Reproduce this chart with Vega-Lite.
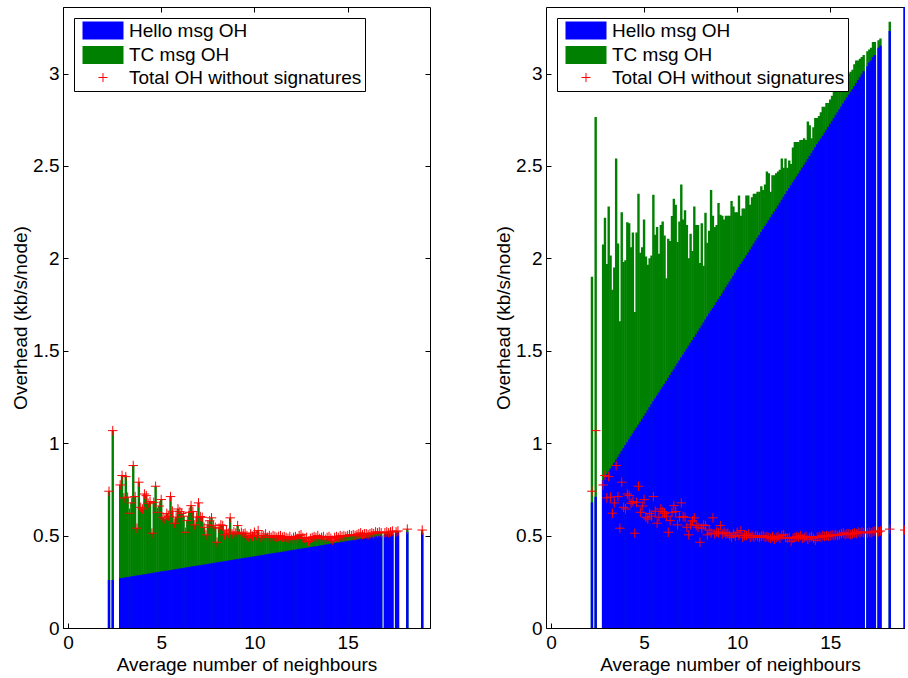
{
 "$schema": "https://vega.github.io/schema/vega-lite/v6.json",
 "padding": {"left": 10, "top": 6, "right": 0, "bottom": 0},
 "background": "white",
 "spacing": 63,
 "config": {
  "font": "Liberation Sans",
  "view": {"stroke": "black", "strokeWidth": 1},
  "axis": {"labelFont": "Liberation Sans", "labelFontSize": 19, "labelColor": "black", "titleFont": "Liberation Sans", "titleFontSize": 19, "titleFontWeight": "normal", "titleColor": "black", "domainColor": "black", "tickColor": "black", "grid": false, "tickSize": -5, "labelPadding": 9},
  "axisX": {"labelPadding": 10, "titlePadding": 3},
  "axisY": {"minExtent": 27, "maxExtent": 27, "titlePadding": 6},
  "legend": {"orient": "none", "legendX": 11, "legendY": 11, "strokeColor": "black", "fillColor": "white", "padding": 3, "labelFont": "Liberation Sans", "labelFontSize": 19, "labelColor": "black", "labelLimit": 400, "labelOffset": 33, "rowPadding": 1.5, "symbolType": "M-0.444,-1H4.111V1H-0.444Z", "symbolSize": 324, "symbolStrokeWidth": 1}
 },
 "resolve": {"scale": {"color": "independent"}, "legend": {"color": "independent"}},
 "datasets": {"oh": [
{"x":2.2,"hL":0.26,"tL":0.74,"hR":0.68,"tR":1.90},
{"x":2.4,"hL":0.26,"tL":1.068,"hR":0.71,"tR":2.765},
{"x":2.8,"hL":0.269,"tL":0.774,"hR":0.800,"tR":2.075},
{"x":2.9,"hL":0.271,"tL":0.825,"hR":0.816,"tR":2.22},
{"x":3.0,"hL":0.272,"tL":0.704,"hR":0.832,"tR":1.97},
{"x":3.1,"hL":0.274,"tL":0.819,"hR":0.847,"tR":2.28},
{"x":3.2,"hL":0.276,"tL":0.708,"hR":0.863,"tR":2.016},
{"x":3.3,"hL":0.277,"tL":0.621,"hR":0.879,"tR":1.83},
{"x":3.4,"hL":0.279,"tL":0.677,"hR":0.895,"tR":1.95},
{"x":3.5,"hL":0.281,"tL":0.879,"hR":0.911,"tR":2.54},
{"x":3.6,"hL":0.282,"tL":0.711,"hR":0.926,"tR":2.08},
{"x":3.7,"hL":0.284,"tL":0.54,"hR":0.942,"tR":1.66},
{"x":3.8,"hL":0.286,"tL":0.789,"hR":0.958,"tR":2.25},
{"x":3.9,"hL":0.287,"tL":0.653,"hR":0.974,"tR":1.98},
{"x":4.0,"hL":0.289,"tL":0.644,"hR":0.990,"tR":1.99},
{"x":4.1,"hL":0.291,"tL":0.725,"hR":1.005,"tR":2.196},
{"x":4.2,"hL":0.292,"tL":0.716,"hR":1.021,"tR":2.19},
{"x":4.3,"hL":0.294,"tL":0.675,"hR":1.037,"tR":2.06},
{"x":4.4,"hL":0.296,"tL":0.684,"hR":1.053,"tR":2.14},
{"x":4.5,"hL":0.297,"tL":0.513,"hR":1.069,"tR":1.71},
{"x":4.6,"hL":0.299,"tL":0.68,"hR":1.084,"tR":2.14},
{"x":4.7,"hL":0.301,"tL":0.767,"hR":1.100,"tR":2.35},
{"x":4.8,"hL":0.302,"tL":0.626,"hR":1.116,"tR":2.03},
{"x":4.9,"hL":0.304,"tL":0.66,"hR":1.132,"tR":2.06},
{"x":5.0,"hL":0.306,"tL":0.695,"hR":1.148,"tR":2.21},
{"x":5.1,"hL":0.307,"tL":0.599,"hR":1.163,"tR":2.01},
{"x":5.2,"hL":0.309,"tL":0.59,"hR":1.179,"tR":1.965},
{"x":5.3,"hL":0.310,"tL":0.62,"hR":1.195,"tR":2.0},
{"x":5.4,"hL":0.312,"tL":0.605,"hR":1.211,"tR":2.016},
{"x":5.5,"hL":0.314,"tL":0.711,"hR":1.227,"tR":2.344},
{"x":5.6,"hL":0.315,"tL":0.632,"hR":1.242,"tR":2.128},
{"x":5.7,"hL":0.317,"tL":0.567,"hR":1.258,"tR":2.17},
{"x":5.8,"hL":0.319,"tL":0.60,"hR":1.274,"tR":2.025},
{"x":5.9,"hL":0.320,"tL":0.644,"hR":1.290,"tR":2.18},
{"x":6.0,"hL":0.322,"tL":0.63,"hR":1.306,"tR":2.2},
{"x":6.1,"hL":0.324,"tL":0.62,"hR":1.321,"tR":2.124},
{"x":6.2,"hL":0.325,"tL":0.605,"hR":1.337,"tR":1.893},
{"x":6.3,"hL":0.327,"tL":0.518,"hR":1.353,"tR":2.106},
{"x":6.4,"hL":0.329,"tL":0.581,"hR":1.369,"tR":2.094},
{"x":6.5,"hL":0.330,"tL":0.626,"hR":1.385,"tR":2.229},
{"x":6.6,"hL":0.332,"tL":0.662,"hR":1.400,"tR":2.323},
{"x":6.7,"hL":0.334,"tL":0.63,"hR":1.416,"tR":2.29},
{"x":6.8,"hL":0.335,"tL":0.558,"hR":1.432,"tR":2.088},
{"x":6.9,"hL":0.337,"tL":0.60,"hR":1.448,"tR":2.2},
{"x":7.0,"hL":0.339,"tL":0.677,"hR":1.464,"tR":2.4},
{"x":7.1,"hL":0.340,"tL":0.603,"hR":1.479,"tR":2.21},
{"x":7.2,"hL":0.342,"tL":0.599,"hR":1.495,"tR":2.26},
{"x":7.3,"hL":0.343,"tL":0.545,"hR":1.511,"tR":2.18},
{"x":7.4,"hL":0.345,"tL":0.504,"hR":1.527,"tR":2.0},
{"x":7.5,"hL":0.347,"tL":0.558,"hR":1.543,"tR":2.133},
{"x":7.6,"hL":0.348,"tL":0.58,"hR":1.558,"tR":2.04},
{"x":7.7,"hL":0.350,"tL":0.596,"hR":1.574,"tR":2.28},
{"x":7.8,"hL":0.352,"tL":0.554,"hR":1.590,"tR":2.18},
{"x":7.9,"hL":0.353,"tL":0.545,"hR":1.606,"tR":2.18},
{"x":8.0,"hL":0.355,"tL":0.464,"hR":1.622,"tR":1.975},
{"x":8.1,"hL":0.357,"tL":0.54,"hR":1.637,"tR":2.19},
{"x":8.2,"hL":0.358,"tL":0.558,"hR":1.653,"tR":1.96},
{"x":8.3,"hL":0.360,"tL":0.554,"hR":1.669,"tR":2.247},
{"x":8.4,"hL":0.362,"tL":0.504,"hR":1.685,"tR":2.084},
{"x":8.5,"hL":0.363,"tL":0.53,"hR":1.701,"tR":2.15},
{"x":8.6,"hL":0.365,"tL":0.513,"hR":1.716,"tR":2.37},
{"x":8.7,"hL":0.367,"tL":0.596,"hR":1.732,"tR":2.23},
{"x":8.8,"hL":0.368,"tL":0.509,"hR":1.748,"tR":2.17},
{"x":8.9,"hL":0.370,"tL":0.52,"hR":1.764,"tR":2.18},
{"x":9.0,"hL":0.372,"tL":0.514,"hR":1.780,"tR":2.3},
{"x":9.1,"hL":0.373,"tL":0.554,"hR":1.795,"tR":2.236},
{"x":9.2,"hL":0.375,"tL":0.509,"hR":1.811,"tR":2.23},
{"x":9.3,"hL":0.376,"tL":0.518,"hR":1.827,"tR":2.21},
{"x":9.4,"hL":0.378,"tL":0.51,"hR":1.843,"tR":2.23},
{"x":9.5,"hL":0.380,"tL":0.513,"hR":1.859,"tR":2.23},
{"x":9.6,"hL":0.381,"tL":0.50,"hR":1.874,"tR":2.23},
{"x":9.7,"hL":0.383,"tL":0.491,"hR":1.890,"tR":2.31},
{"x":9.8,"hL":0.385,"tL":0.509,"hR":1.906,"tR":2.28},
{"x":9.9,"hL":0.386,"tL":0.496,"hR":1.922,"tR":2.25},
{"x":10.0,"hL":0.388,"tL":0.518,"hR":1.938,"tR":2.25},
{"x":10.1,"hL":0.390,"tL":0.50,"hR":1.953,"tR":2.34},
{"x":10.2,"hL":0.391,"tL":0.527,"hR":1.969,"tR":2.23},
{"x":10.3,"hL":0.393,"tL":0.491,"hR":1.985,"tR":2.27},
{"x":10.4,"hL":0.395,"tL":0.50,"hR":2.001,"tR":2.27},
{"x":10.5,"hL":0.396,"tL":0.50,"hR":2.017,"tR":2.34},
{"x":10.6,"hL":0.398,"tL":0.509,"hR":2.032,"tR":2.34},
{"x":10.7,"hL":0.400,"tL":0.491,"hR":2.048,"tR":2.29},
{"x":10.8,"hL":0.401,"tL":0.50,"hR":2.064,"tR":2.33},
{"x":10.9,"hL":0.403,"tL":0.491,"hR":2.080,"tR":2.35},
{"x":11.0,"hL":0.405,"tL":0.50,"hR":2.096,"tR":2.35},
{"x":11.1,"hL":0.406,"tL":0.496,"hR":2.111,"tR":2.36},
{"x":11.2,"hL":0.408,"tL":0.49,"hR":2.127,"tR":2.36},
{"x":11.3,"hL":0.409,"tL":0.496,"hR":2.143,"tR":2.39},
{"x":11.4,"hL":0.411,"tL":0.50,"hR":2.159,"tR":2.37},
{"x":11.5,"hL":0.413,"tL":0.491,"hR":2.175,"tR":2.40},
{"x":11.6,"hL":0.414,"tL":0.495,"hR":2.190,"tR":2.47},
{"x":11.7,"hL":0.416,"tL":0.49,"hR":2.206,"tR":2.46},
{"x":11.8,"hL":0.418,"tL":0.485,"hR":2.222,"tR":2.36},
{"x":11.9,"hL":0.419,"tL":0.495,"hR":2.238,"tR":2.45},
{"x":12.0,"hL":0.421,"tL":0.48,"hR":2.254,"tR":2.45},
{"x":12.1,"hL":0.423,"tL":0.49,"hR":2.269,"tR":2.46},
{"x":12.2,"hL":0.424,"tL":0.495,"hR":2.285,"tR":2.47},
{"x":12.3,"hL":0.426,"tL":0.485,"hR":2.301,"tR":2.48},
{"x":12.4,"hL":0.428,"tL":0.50,"hR":2.317,"tR":2.54},
{"x":12.5,"hL":0.429,"tL":0.505,"hR":2.333,"tR":2.49},
{"x":12.6,"hL":0.431,"tL":0.49,"hR":2.348,"tR":2.54},
{"x":12.7,"hL":0.433,"tL":0.485,"hR":2.364,"tR":2.49},
{"x":12.8,"hL":0.434,"tL":0.49,"hR":2.380,"tR":2.53},
{"x":12.9,"hL":0.436,"tL":0.47,"hR":2.396,"tR":2.51},
{"x":13.0,"hL":0.438,"tL":0.485,"hR":2.412,"tR":2.60},
{"x":13.1,"hL":0.439,"tL":0.49,"hR":2.427,"tR":2.63},
{"x":13.2,"hL":0.441,"tL":0.495,"hR":2.443,"tR":2.63},
{"x":13.3,"hL":0.442,"tL":0.49,"hR":2.459,"tR":2.63},
{"x":13.4,"hL":0.444,"tL":0.50,"hR":2.475,"tR":2.64},
{"x":13.5,"hL":0.446,"tL":0.485,"hR":2.491,"tR":2.64},
{"x":13.6,"hL":0.447,"tL":0.49,"hR":2.506,"tR":2.65},
{"x":13.7,"hL":0.449,"tL":0.495,"hR":2.522,"tR":2.64},
{"x":13.8,"hL":0.451,"tL":0.48,"hR":2.538,"tR":2.74},
{"x":13.9,"hL":0.452,"tL":0.49,"hR":2.554,"tR":2.72},
{"x":14.0,"hL":0.454,"tL":0.495,"hR":2.570,"tR":2.65},
{"x":14.1,"hL":0.456,"tL":0.485,"hR":2.585,"tR":2.71},
{"x":14.2,"hL":0.457,"tL":0.475,"hR":2.601,"tR":2.76},
{"x":14.3,"hL":0.459,"tL":0.49,"hR":2.617,"tR":2.76},
{"x":14.4,"hL":0.461,"tL":0.495,"hR":2.633,"tR":2.77},
{"x":14.5,"hL":0.462,"tL":0.49,"hR":2.649,"tR":2.79},
{"x":14.6,"hL":0.464,"tL":0.50,"hR":2.664,"tR":2.82},
{"x":14.7,"hL":0.466,"tL":0.495,"hR":2.680,"tR":2.82},
{"x":14.8,"hL":0.467,"tL":0.50,"hR":2.696,"tR":2.84},
{"x":14.9,"hL":0.469,"tL":0.495,"hR":2.712,"tR":2.84},
{"x":15.0,"hL":0.471,"tL":0.50,"hR":2.728,"tR":2.86},
{"x":15.1,"hL":0.472,"tL":0.505,"hR":2.743,"tR":2.88},
{"x":15.2,"hL":0.474,"tL":0.50,"hR":2.759,"tR":2.91},
{"x":15.3,"hL":0.475,"tL":0.505,"hR":2.775,"tR":2.91},
{"x":15.4,"hL":0.477,"tL":0.50,"hR":2.791,"tR":2.94},
{"x":15.5,"hL":0.479,"tL":0.505,"hR":2.807,"tR":2.94},
{"x":15.6,"hL":0.480,"tL":0.51,"hR":2.822,"tR":2.95},
{"x":15.7,"hL":0.482,"tL":0.515,"hR":2.838,"tR":2.97},
{"x":15.8,"hL":0.484,"tL":0.505,"hR":2.854,"tR":2.98},
{"x":15.9,"hL":0.485,"tL":0.51,"hR":2.870,"tR":2.98},
{"x":16.0,"hL":0.487,"tL":0.51,"hR":2.886,"tR":3.00},
{"x":16.1,"hL":0.489,"tL":0.505,"hR":2.901,"tR":3.01},
{"x":16.2,"hL":0.490,"tL":0.51,"hR":2.917,"tR":3.02},
{"x":16.3,"hL":0.492,"tL":0.515,"hR":2.933,"tR":3.05},
{"x":16.4,"hL":0.494,"tL":0.51,"hR":2.949,"tR":3.07},
{"x":16.5,"hL":0.495,"tL":0.52,"hR":2.965,"tR":3.07},
{"x":16.6,"hL":0.497,"tL":0.515,"hR":2.980,"tR":3.08},
{"x":16.7,"hL":0.499,"tL":0.52,"hR":2.996,"tR":3.09},
{"x":16.8,"hL":0.500,"tL":0.515,"hR":3.012,"tR":3.10},
{"x":17.0,"hL":0.504,"tL":0.515,"hR":3.04,"tR":3.12},
{"x":17.1,"hL":0.505,"tL":0.52,"hR":3.06,"tR":3.13},
{"x":17.2,"hL":0.507,"tL":0.515,"hR":3.07,"tR":3.14},
{"x":17.3,"hL":0.508,"tL":0.52,"hR":3.09,"tR":3.17},
{"x":17.4,"hL":0.510,"tL":0.525,"hR":3.10,"tR":3.17},
{"x":17.6,"hL":0.513,"tL":0.52,"hR":3.14,"tR":3.18},
{"x":17.7,"hL":0.515,"tL":0.525,"hR":3.15,"tR":3.19},
{"x":18.2,"hL":0.52,"tL":0.535,"hR":3.23,"tR":3.28},
{"x":19.0,"hL":0.515,"tL":0.53,"hR":3.36,"tR":3.42}
 ]},
 "hconcat": [
  {
   "width": 367, "height": 621,
   "data": {"name": "oh"},
   "resolve": {"axis": {"x": "independent", "y": "independent"}},
   "layer": [
    {"mark": {"type": "bar", "width": 2.4, "clip": true},
     "encoding": {
      "x": {"field": "x", "type": "quantitative", "scale": {"domain": [0, 19.15], "nice": false, "zero": false}, "axis": {"values": [0, 5, 10, 15], "title": "Average number of neighbours"}},
      "y": {"field": "tL", "type": "quantitative", "stack": null, "scale": {"domain": [0, 3.36], "nice": false}, "axis": {"values": [0, 0.5, 1, 1.5, 2, 2.5, 3], "format": "~g", "title": "Overhead (kb/s/node)"}},
      "color": {"datum": "TC msg OH", "type": "nominal", "scale": {"domain": ["Hello msg OH", "TC msg OH", "Total OH without signatures"], "range": ["#0000ff", "#008000", "#ff0000"]},
       "legend": {"title": null, "orient": "none", "legendX": 11, "legendY": 11, "encode": {"symbols": {"update": {
         "shape": {"signal": "datum.value === 'Total OH without signatures' ? 'M1.333,0H2.333M1.833,-0.5V0.5' : 'M-0.444,-1H4.111V1H-0.444Z'"},
         "fill": {"signal": "datum.value === 'Hello msg OH' ? '#0000ff' : datum.value === 'TC msg OH' ? '#008000' : 'transparent'"},
         "stroke": {"signal": "datum.value === 'Total OH without signatures' ? '#ff0000' : 'transparent'"},
         "strokeWidth": {"value": 1}, "opacity": {"value": 1}, "fillOpacity": {"value": 1}, "strokeOpacity": {"value": 1}}}}}}
     }},
    {"mark": {"type": "bar", "width": 2.4, "clip": true},
     "encoding": {
      "x": {"field": "x", "type": "quantitative", "axis": null},
      "y": {"field": "hL", "type": "quantitative", "stack": null, "axis": null},
      "color": {"datum": "Hello msg OH", "type": "nominal"}
     }},
    {"mark": {"type": "point", "shape": "M-1,0H1M0,-1V1", "size": 90, "filled": false, "color": "#ff0000", "strokeWidth": 1, "opacity": 1, "clip": true},
     "encoding": {
      "x": {"field": "x", "type": "quantitative", "axis": {"orient": "top", "labels": false, "title": null, "domain": false, "minExtent": 0, "maxExtent": 0, "values": [5, 10, 15]}},
      "y": {"field": "tL", "type": "quantitative", "axis": {"orient": "right", "labels": false, "title": null, "domain": false, "minExtent": 0, "maxExtent": 0, "values": [0.5, 1, 1.5, 2, 2.5, 3]}}
     }}
   ]
  },
  {
   "width": 359, "height": 621,
   "view": {"stroke": null},
   "data": {"name": "oh"},
   "resolve": {"axis": {"x": "independent", "y": "independent"}},
   "layer": [
    {"mark": {"type": "bar", "width": 2.4, "clip": true},
     "encoding": {
      "x": {"field": "x", "type": "quantitative", "scale": {"domain": [0, 18.75], "nice": false, "zero": false}, "axis": {"values": [0, 5, 10, 15], "title": "Average number of neighbours", "titleX": 184}},
      "y": {"field": "tR", "type": "quantitative", "stack": null, "scale": {"domain": [0, 3.36], "nice": false}, "axis": {"values": [0, 0.5, 1, 1.5, 2, 2.5, 3], "format": "~g", "title": "Overhead (kb/s/node)"}},
      "color": {"datum": "TC msg OH", "type": "nominal", "scale": {"domain": ["Hello msg OH", "TC msg OH", "Total OH without signatures"], "range": ["#0000ff", "#008000", "#ff0000"]},
       "legend": {"title": null, "orient": "none", "legendX": 11, "legendY": 11, "encode": {"symbols": {"update": {
         "shape": {"signal": "datum.value === 'Total OH without signatures' ? 'M1.333,0H2.333M1.833,-0.5V0.5' : 'M-0.444,-1H4.111V1H-0.444Z'"},
         "fill": {"signal": "datum.value === 'Hello msg OH' ? '#0000ff' : datum.value === 'TC msg OH' ? '#008000' : 'transparent'"},
         "stroke": {"signal": "datum.value === 'Total OH without signatures' ? '#ff0000' : 'transparent'"},
         "strokeWidth": {"value": 1}, "opacity": {"value": 1}, "fillOpacity": {"value": 1}, "strokeOpacity": {"value": 1}}}}}}
     }},
    {"mark": {"type": "bar", "width": 2.4, "clip": true},
     "encoding": {
      "x": {"field": "x", "type": "quantitative", "axis": null},
      "y": {"field": "hR", "type": "quantitative", "stack": null, "axis": null},
      "color": {"datum": "Hello msg OH", "type": "nominal"}
     }},
    {"mark": {"type": "point", "shape": "M-1,0H1M0,-1V1", "size": 90, "filled": false, "color": "#ff0000", "strokeWidth": 1, "opacity": 1, "clip": true},
     "encoding": {
      "x": {"field": "x", "type": "quantitative", "axis": {"orient": "top", "labels": false, "title": null, "domain": true, "minExtent": 0, "maxExtent": 0, "values": [5, 10, 15]}},
      "y": {"field": "tL", "type": "quantitative", "axis": null}
     }}
   ]
  }
 ]
}
